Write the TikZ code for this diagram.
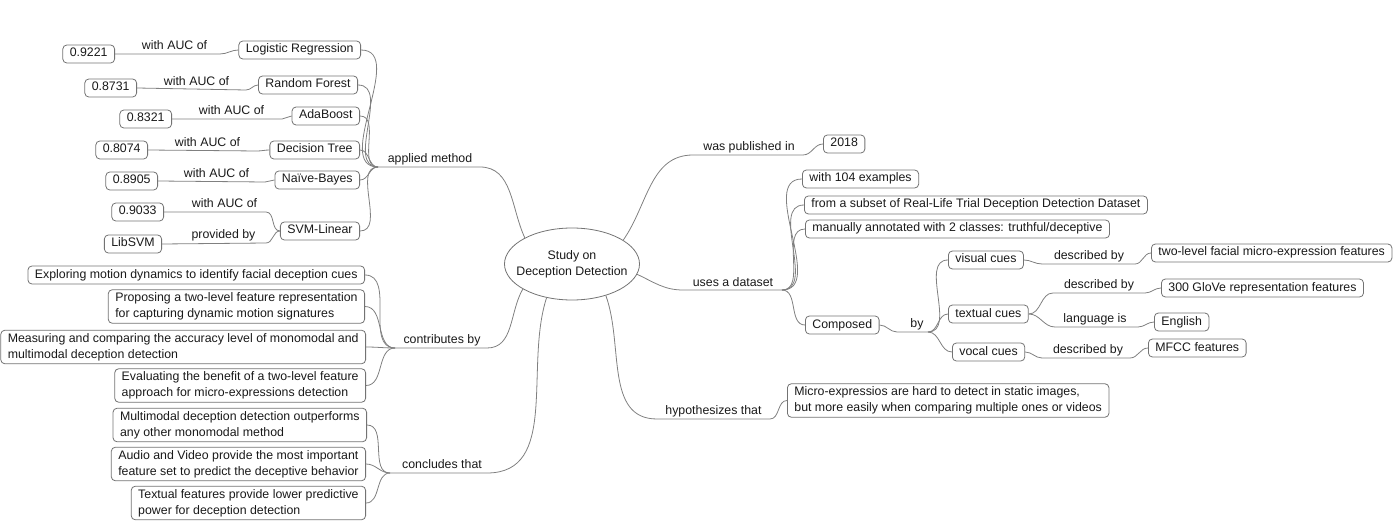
\documentclass[tikz,border=0pt]{standalone}
\usepackage{fontspec}
\setmainfont{Liberation Sans}
\usetikzlibrary{shapes.geometric}

\begin{document}
\begin{tikzpicture}[x=1pt,y=1pt,
    font=\fontsize{12.35}{16}\selectfont,
    box/.style={draw=black!55,line width=0.8pt,rounded corners=4pt,inner xsep=7pt,inner ysep=3pt,text height=9pt,text depth=3pt,text=black!90},
    tbox/.style={draw=black!55,line width=0.8pt,rounded corners=4pt,inner xsep=7pt,inner ysep=3pt,align=left,text=black!90},
    lbl/.style={anchor=base,inner sep=0pt,text=black!90},
    edge/.style={draw=black!50,line width=0.8pt}]
      \useasboundingbox (0,0) rectangle (1394,-521);
      % Central topic
      \node[ellipse,draw=black!55,line width=0.8pt,minimum width=135pt,minimum height=72pt,inner xsep=-12pt,inner ysep=0pt,align=center,text=black!90] (root) at (572,-264) {Study on\\Deception Detection};
      % Applied methods
      \node[box,anchor=east] (lr) at (361,-50) {Logistic Regression};
      \node[box,anchor=east] (rf) at (358,-85) {Random Forest};
      \node[box,anchor=east] (ada) at (360,-116) {AdaBoost};
      \node[box,anchor=east] (dt) at (360,-150) {Decision Tree};
      \node[box,anchor=east] (nb) at (360,-180) {Naïve-Bayes};
      \node[box,anchor=east] (svm) at (360,-231) {SVM-Linear};
      % AUC values
      \node[box,anchor=east] (v1) at (115,-54) {0.9221};
      \node[box,anchor=east] (v2) at (137,-88) {0.8731};
      \node[box,anchor=east] (v3) at (172,-119) {0.8321};
      \node[box,anchor=east] (v4) at (148,-150) {0.8074};
      \node[box,anchor=east] (v5) at (158,-181) {0.8905};
      \node[box,anchor=east] (v6) at (164,-212) {0.9033};
      \node[box,anchor=east] (libsvm) at (162,-244) {LibSVM};
      % Contributions
      \node[box,anchor=east] (c1) at (365,-275) {Exploring motion dynamics to identify facial deception cues};
      \node[tbox,anchor=east] (c2) at (365,-306.5) {Proposing a two-level feature representation\\for capturing dynamic motion signatures};
      \node[tbox,anchor=east] (c3) at (366,-347) {Measuring and comparing the accuracy level of monomodal and\\multimodal deception detection};
      \node[tbox,anchor=east] (c4) at (366,-385.5) {Evaluating the benefit of a two-level feature\\approach for micro-expressions detection};
      % Conclusions
      \node[tbox,anchor=east] (k1) at (367,-425) {Multimodal deception detection outperforms\\any other monomodal method};
      \node[tbox,anchor=east] (k2) at (366,-464) {Audio and Video provide the most important\\feature set to predict the deceptive behavior};
      \node[tbox,anchor=east] (k3) at (366,-503) {Textual features provide lower predictive\\power for deception detection};
      % Publication and dataset
      \node[box,anchor=west] (year) at (823,-144) {2018};
      \node[box,anchor=west] (d1) at (802,-179) {with 104 examples};
      \node[box,anchor=west] (d2) at (804,-205) {from a subset of Real-Life Trial Deception Detection Dataset};
      \node[box,anchor=west] (d3) at (805,-229) {manually annotated with 2 classes: truthful/deceptive};
      \node[box,anchor=west] (comp) at (805,-325) {Composed};
      \node[box,anchor=west] (vis) at (948,-260) {visual cues};
      \node[box,anchor=west] (txt) at (948,-314) {textual cues};
      \node[box,anchor=west] (voc) at (952,-352) {vocal cues};
      \node[box,anchor=west] (fme) at (1151,-253) {two-level facial micro-expression features};
      \node[box,anchor=west] (glove) at (1161,-288) {300 GloVe representation features};
      \node[box,anchor=west] (eng) at (1154,-322) {English};
      \node[box,anchor=west] (mfcc) at (1148,-348) {MFCC features};
      \node[tbox,anchor=west] (hyp) at (787,-400.5) {Micro-expressios are hard to detect in static images,\\but more easily when comparing multiple ones or videos};
      % Branch points
      \coordinate (amB) at (378,-167);
      \coordinate (cbB) at (395,-348);
      \coordinate (ctB) at (390,-473);
      \coordinate (dsB) at (782,-290);
      \coordinate (byB) at (928,-332);
      % Relation labels
      \node[lbl] (am) at (430,-162.5) {applied method};
      \node[lbl] (cb) at (442,-343.5) {contributes by};
      \node[lbl] (ct) at (442,-468.5) {concludes that};
      \node[lbl] (pub) at (749,-150.5) {was published in};
      \node[lbl] (uses) at (733,-286.5) {uses a dataset};
      \node[lbl] (hy) at (713.5,-414.5) {hypothesizes that};
      \node[lbl] (a1) at (174.5,-49.5) {with AUC of};
      \node[lbl] (a2) at (196.5,-85.5) {with AUC of};
      \node[lbl] (a3) at (231.5,-114.5) {with AUC of};
      \node[lbl] (a4) at (207.5,-146.5) {with AUC of};
      \node[lbl] (a5) at (216.5,-177.5) {with AUC of};
      \node[lbl] (a6) at (224.5,-207.5) {with AUC of};
      \node[lbl] (pv) at (223.5,-238.5) {provided by};
      \node[lbl] (by) at (917,-327.5) {by};
      \node[lbl] (db1) at (1089,-259.5) {described by};
      \node[lbl] (db2) at (1099,-288.5) {described by};
      \node[lbl] (li) at (1095,-322.5) {language is};
      \node[lbl] (db3) at (1088,-353.5) {described by};
      % Trunks from the central topic
      \draw[edge] (root.151) to[out=115,in=0] (480,-167) -- (amB);
      \draw[edge] (root.207) to[out=240,in=0] (487,-348) -- (cbB);
      \draw[edge] (root.233) to[out=252,in=0] (487,-473) -- (ctB);
      \draw[edge] (root.25) to[out=55,in=180] (693,-155) -- (803,-155) to[out=0,in=180] (year.west);
      \draw[edge] (root.351) to[out=-25,in=180] (683,-290) -- (dsB);
      \draw[edge] (root.317) to[out=290,in=180] (657,-419) -- (770,-419) to[out=0,in=180] (hyp.west);
      % Methods
      \draw[edge] (amB) to[out=180,in=0] (lr.east);
      \draw[edge] (amB) to[out=180,in=0] (rf.east);
      \draw[edge] (amB) to[out=180,in=0] (ada.east);
      \draw[edge] (amB) to[out=180,in=0] (dt.east);
      \draw[edge] (amB) to[out=180,in=0] (nb.east);
      \draw[edge] (amB) to[out=180,in=0] (svm.east);
      \draw[edge] (lr.west) to[out=180,in=0] (220,-54) -- (v1.east);
      \draw[edge] (rf.west) to[out=180,in=0] (246,-90) -- (v2.east);
      \draw[edge] (ada.west) to[out=180,in=0] (282,-119) -- (v3.east);
      \draw[edge] (dt.west) to[out=180,in=0] (257,-151) -- (v4.east);
      \draw[edge] (nb.west) to[out=180,in=0] (265,-182) -- (v5.east);
      \draw[edge] (svm.west) to[out=180,in=0] (266,-212) -- (v6.east);
      \draw[edge] (svm.west) to[out=180,in=0] (266,-243) -- (libsvm.east);
      % Contributions and conclusions
      \draw[edge] (cbB) to[out=180,in=0] (c1.east);
      \draw[edge] (cbB) to[out=180,in=0] (c2.east);
      \draw[edge] (cbB) to[out=180,in=0] (c3.east);
      \draw[edge] (cbB) to[out=180,in=0] (c4.east);
      \draw[edge] (ctB) to[out=180,in=0] (k1.east);
      \draw[edge] (ctB) to[out=180,in=0] (k2.east);
      \draw[edge] (ctB) to[out=180,in=0] (k3.east);
      % Dataset
      \draw[edge] (dsB) to[out=0,in=180] (d1.west);
      \draw[edge] (dsB) to[out=0,in=180] (d2.west);
      \draw[edge] (dsB) to[out=0,in=180] (d3.west);
      \draw[edge] (dsB) to[out=0,in=180] (comp.west);
      \draw[edge] (comp.east) to[out=0,in=180] (897,-332) -- (byB);
      \draw[edge] (byB) to[out=0,in=180] (vis.west);
      \draw[edge] (byB) to[out=0,in=180] (txt.west);
      \draw[edge] (byB) to[out=0,in=180] (voc.west);
      \draw[edge] (vis.east) to[out=0,in=180] (1042,-264) -- (1135,-264) to[out=0,in=180] (fme.west);
      \draw[edge] (txt.east) to[out=0,in=180] (1053,-293) -- (1145,-293) to[out=0,in=180] (glove.west);
      \draw[edge] (txt.east) to[out=0,in=180] (1055,-327) -- (1138,-327) to[out=0,in=180] (eng.west);
      \draw[edge] (voc.east) to[out=0,in=180] (1042,-358) -- (1130,-358) to[out=0,in=180] (mfcc.west);
    \end{tikzpicture}
\end{document}
